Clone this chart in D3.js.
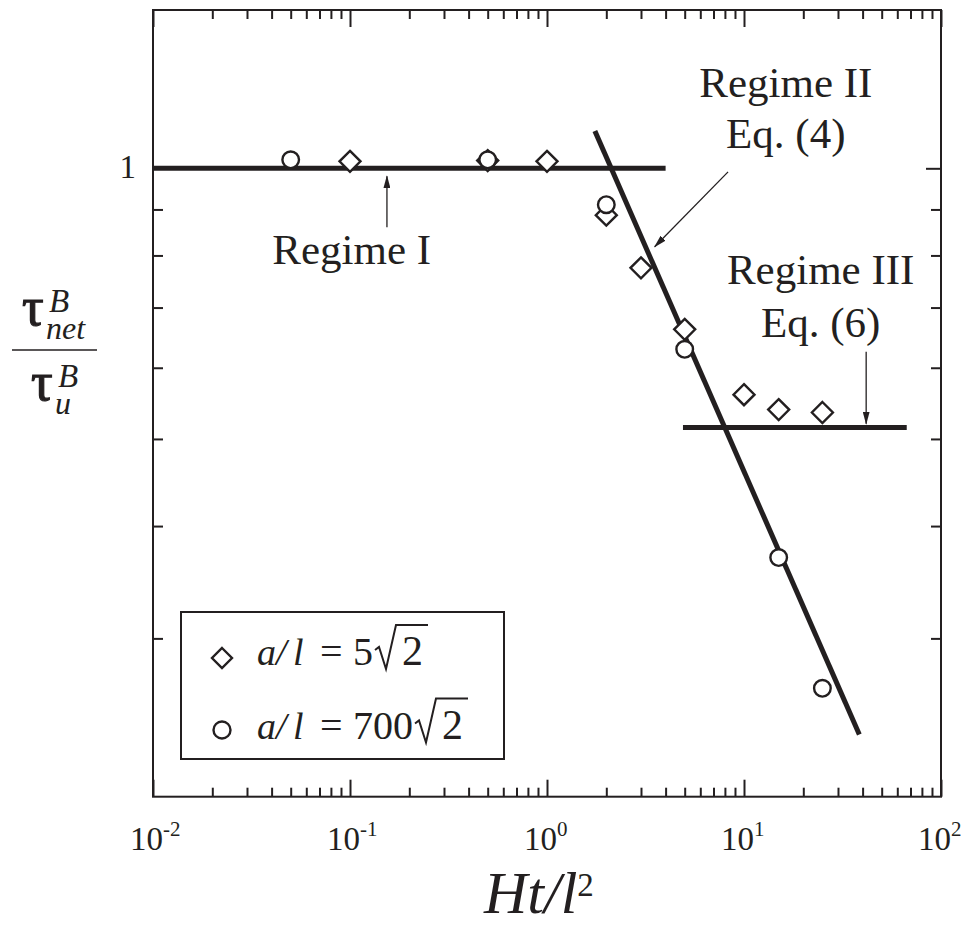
<!DOCTYPE html>
<html>
<head>
<meta charset="utf-8">
<script src="https://cdn.jsdelivr.net/npm/d3@7"></script>
<style>
  body { margin: 0; background: #fff; }
  svg text { font-family: "Liberation Serif", "Times New Roman", serif; fill: #231f20; }
</style>
</head>
<body>
<div id="chart"></div>
<script>
// values (x = Ht/l^2, y = tau_net / tau_u)
const diamondX = [0.1, 0.5, 1, 2, 3, 5, 10, 15, 25];
const diamondY = [1.018, 1.02, 1.018, 0.887, 0.775, 0.662, 0.56, 0.539, 0.535];
const circleX = [0.05, 0.5, 2, 5, 15, 25];
const circleY = [1.022, 1.022, 0.911, 0.629, 0.369, 0.264];

// regime lines, [x, y] end points
const regime1 = [[0.01, 1], [4, 1]];
const regime2 = [[1.75, 1.1], [38.5, 0.2345]];
const regime3 = [[4.9, 0.515], [67, 0.515]];

// axis ticks
const xDecades = [0.01, 0.1, 1, 10, 100];
const xExponents = ['-2', '-1', '0', '1', '2'];
const yTicks = [0.3, 0.4, 0.5, 0.6, 0.7, 0.8, 0.9, 1];
const yLabelled = [1];

// legend
const legendCoef = ['5', '700'];

const ink = '#231f20';
const W = 968, H = 926;
const margin = {top: 10, right: 27, bottom: 129.3, left: 153};
const width = W - margin.left - margin.right,
      height = H - margin.top - margin.bottom;

const root = d3.select('#chart').append('svg')
  .attr('width', W)
  .attr('height', H);

root.append('defs').append('marker')
  .attr('id', 'arrow')
  .attr('markerUnits', 'userSpaceOnUse')
  .attr('markerWidth', 13).attr('markerHeight', 7)
  .attr('refX', 12).attr('refY', 3.5)
  .attr('orient', 'auto')
  .append('path')
  .attr('d', 'M0,0 L13,3.5 L0,7 Z')
  .attr('fill', ink);

const svg = root.append('g')
  .attr('transform', `translate(${margin.left},${margin.top})`);

const x = d3.scaleLog().domain([0.01, 100]).range([0, width]);
const y = d3.scaleLog().domain([0.2, 1.5]).range([height, 0]);

// minor ticks 2..9 per decade
const xMinor = [];
xDecades.slice(0, -1).forEach(d => d3.range(2, 10).forEach(k => xMinor.push(d * k)));

const styleAxis = g => {
  g.select('.domain').remove();
  g.selectAll('line').attr('stroke', ink).attr('stroke-width', 2);
  g.selectAll('text').remove();
};

// bottom + top
svg.append('g').attr('transform', `translate(0,${height})`)
  .call(d3.axisBottom(x).tickValues(xMinor).tickSize(-9).tickFormat('')).call(styleAxis);
svg.append('g').attr('transform', `translate(0,${height})`)
  .call(d3.axisBottom(x).tickValues(xDecades).tickSize(-17).tickFormat('')).call(styleAxis);
svg.append('g')
  .call(d3.axisTop(x).tickValues(xMinor).tickSize(-9).tickFormat('')).call(styleAxis);
svg.append('g')
  .call(d3.axisTop(x).tickValues(xDecades).tickSize(-17).tickFormat('')).call(styleAxis);

// left + right
const yMinor = yTicks.filter(v => !yLabelled.includes(v));
svg.append('g')
  .call(d3.axisLeft(y).tickValues(yMinor).tickSize(-10).tickFormat('')).call(styleAxis);
svg.append('g')
  .call(d3.axisLeft(y).tickValues(yLabelled).tickSize(-15).tickFormat('')).call(styleAxis);
svg.append('g').attr('transform', `translate(${width},0)`)
  .call(d3.axisRight(y).tickValues(yMinor).tickSize(-10).tickFormat('')).call(styleAxis);
svg.append('g').attr('transform', `translate(${width},0)`)
  .call(d3.axisRight(y).tickValues(yLabelled).tickSize(-15).tickFormat('')).call(styleAxis);

// frame
svg.append('rect')
  .attr('width', width).attr('height', height)
  .attr('fill', 'none').attr('stroke', ink).attr('stroke-width', 2);

// x tick labels 10^n
const xl = svg.append('g').selectAll('text')
  .data(xDecades)
  .join('text')
  .attr('x', d => x(d) - 23)
  .attr('y', height + 53)
  .style('font-size', '33px');
xl.append('tspan').text('10');
xl.append('tspan').text((d, i) => xExponents[i])
  .attr('dy', -14).style('font-size', '21px');

// y tick label
svg.append('g').selectAll('text')
  .data(yLabelled)
  .join('text')
  .attr('x', -17)
  .attr('y', d => y(d) + 10)
  .attr('text-anchor', 'end')
  .style('font-size', '33px')
  .text(d => d);

// x axis title  Ht/l^2
const xt = root.append('text')
  .attr('x', 484).attr('y', 913)
  .style('font-size', '60px');
xt.append('tspan').text('Ht/l').style('font-style', 'italic');
xt.append('tspan').text('2').attr('dy', -17).style('font-size', '33px');

// y axis title  tau^B_net / tau^B_u
const yt = root.append('g');
const frac = (tx, ty, sub) => {
  const t = yt.append('text').attr('x', tx).attr('y', ty);
  t.append('tspan').text('\u03c4').style('font-size', '54px')
    .attr('stroke', ink).attr('stroke-width', 1.2);
  t.append('tspan').text('B').attr('x', tx + 27).attr('y', ty - 13)
    .style('font-size', '33px').style('font-style', 'italic');
  t.append('tspan').text(sub).attr('x', tx + 24).attr('y', ty + 14)
    .style('font-size', '32px').style('font-style', 'italic');
};
frac(22, 325, 'net');
yt.append('line').attr('x1', 12).attr('x2', 97).attr('y1', 350).attr('y2', 350)
  .attr('stroke', ink).attr('stroke-width', 1.6);
frac(31, 400, 'u');

// regime lines
const line = d3.line().x(d => x(d[0])).y(d => y(d[1]));
svg.append('g').selectAll('path')
  .data([regime1, regime2, regime3])
  .join('path')
  .attr('d', line)
  .attr('fill', 'none')
  .attr('stroke', ink)
  .attr('stroke-width', 5);

// annotation arrows (in data units)
const arrows = [
  [[0.154, 0.86], [0.154, 0.98]],
  [[8.3, 0.991], [3.52, 0.818]],
  [[41.7, 0.625], [41.7, 0.52]]
];
svg.append('g').selectAll('line')
  .data(arrows)
  .join('line')
  .attr('x1', d => x(d[0][0])).attr('y1', d => y(d[0][1]))
  .attr('x2', d => x(d[1][0])).attr('y2', d => y(d[1][1]))
  .attr('stroke', ink).attr('stroke-width', 1.3)
  .attr('marker-end', 'url(#arrow)');

// annotation text
const notes = [
  {t: 'Regime I', x: 0.102, y: 0.782},
  {t: 'Regime II', x: 16.3, y: 1.201},
  {t: 'Eq. (4)', x: 16.3, y: 1.053},
  {t: 'Regime III', x: 24.5, y: 0.7434},
  {t: 'Eq. (6)', x: 24.5, y: 0.6497}
];
svg.append('g').selectAll('text')
  .data(notes)
  .join('text')
  .attr('x', d => x(d.x)).attr('y', d => y(d.y))
  .attr('text-anchor', 'middle')
  .style('font-size', '43px')
  .text(d => d.t);

// markers
const diamondPath = r => `M0,${-r}L${r},0L0,${r}L${-r},0Z`;
svg.append('g').selectAll('path')
  .data(d3.zip(diamondX, diamondY))
  .join('path')
  .attr('transform', d => `translate(${x(d[0])},${y(d[1])})`)
  .attr('d', diamondPath(10.5))
  .attr('fill', '#fff').attr('stroke', ink).attr('stroke-width', 2.4);
svg.append('g').selectAll('circle')
  .data(d3.zip(circleX, circleY))
  .join('circle')
  .attr('cx', d => x(d[0])).attr('cy', d => y(d[1]))
  .attr('r', 8.3)
  .attr('fill', '#fff').attr('stroke', ink).attr('stroke-width', 2.4);

// legend
const lg = root.append('g');
lg.append('rect')
  .attr('x', 181).attr('y', 612).attr('width', 323).attr('height', 147)
  .attr('fill', '#fff').attr('stroke', ink).attr('stroke-width', 2);
lg.append('path').attr('transform', 'translate(222,658)')
  .attr('d', diamondPath(10))
  .attr('fill', '#fff').attr('stroke', ink).attr('stroke-width', 2.4);
lg.append('circle').attr('cx', 222).attr('cy', 730).attr('r', 8.5)
  .attr('fill', '#fff').attr('stroke', ink).attr('stroke-width', 2.4);

legendCoef.forEach((c, i) => {
  const by = 665 + i * 73.5;
  const t = lg.append('text').attr('y', by).style('font-size', '38px');
  t.append('tspan').attr('x', 257).text('a').style('font-style', 'italic');
  t.append('tspan').attr('x', 276).text('/').style('font-style', 'italic');
  t.append('tspan').attr('x', 293).text('l').style('font-style', 'italic');
  t.append('tspan').attr('x', 320).text('=').style('font-size', '40px');
  const coef = t.append('tspan').attr('x', 353).text(c).style('font-size', '40px');
  const cw = coef.node().getComputedTextLength();
  const rx = 353 + cw + 2;
  const two = lg.append('text').attr('x', rx + 27).attr('y', by)
    .style('font-size', '42px').text('2');
  const tw = two.node().getComputedTextLength();
  lg.append('path')
    .attr('d', `M${rx},${by - 15}L${rx + 4},${by - 18}L${rx + 11},${by + 4}L${rx + 21},${by - 40}L${rx + 27 + tw + 5},${by - 40}`)
    .attr('fill', 'none').attr('stroke', ink).attr('stroke-width', 2)
    .attr('stroke-linejoin', 'miter');
});
</script>
</body>
</html>
